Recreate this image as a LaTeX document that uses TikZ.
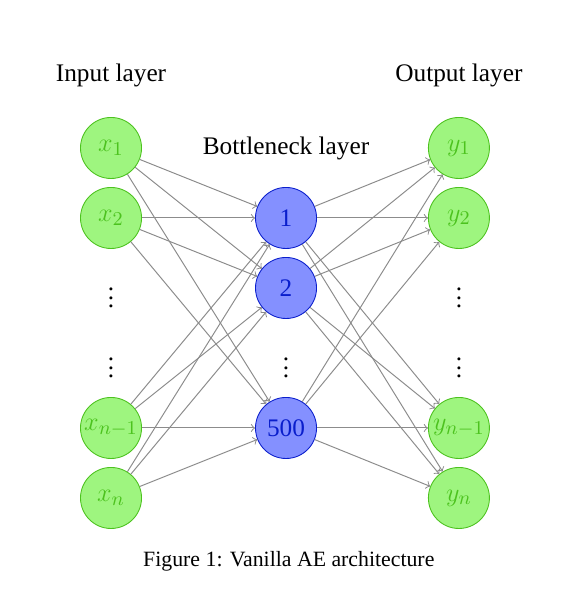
\documentclass[tikz,border=0pt]{standalone}
\usepackage{fontspec}
\setmainfont{Liberation Serif}
\definecolor{iofill}{HTML}{9EF57F}
\definecolor{ioline}{HTML}{4CC21E}
\definecolor{hiddenfill}{HTML}{8490FF}
\definecolor{hiddenline}{HTML}{0A1ECC}

\begin{document}
\begin{tikzpicture}[x=32.11pt,y=-32.11pt,
    every node/.style={font=\fontsize{11.6}{14}\selectfont},
    io/.style={circle,draw=ioline,fill=iofill,text=ioline,minimum size=28pt,inner sep=0pt,font=\fontsize{13}{15}\selectfont},
    hidden/.style={circle,draw=hiddenline,fill=hiddenfill,text=hiddenline,minimum size=28pt,inner sep=0pt},
    link/.style={->,draw=black!45,line width=0.45pt}]
    \useasboundingbox (-1.586,-2.114) rectangle (6.657,6.329);

    % layer titles
    \node (inlabel) at (0,-1.03) {Input layer};
    \node (botlabel) at (2.5,0) {Bottleneck layer};
    \node (outlabel) at (4.97,-1.03) {Output layer};

    % input layer
    \node[io] (x1) at (0,0) {$x_1$};
    \node[io] (x2) at (0,1) {$x_2$};
    \node (xdots1) at (0,2.05) {$\vdots$};
    \node (xdots2) at (0,3.05) {$\vdots$};
    \node[io] (xn1) at (0,4) {$x_{n-1}$};
    \node[io] (xn) at (0,5) {$x_n$};

    % bottleneck
    \node[hidden] (h1) at (2.5,1) {1};
    \node[hidden] (h2) at (2.5,2) {2};
    \node (hdots) at (2.5,3.05) {$\vdots$};
    \node[hidden] (h3) at (2.5,4) {500};

    % output layer
    \node[io] (y1) at (4.97,0) {$y_1$};
    \node[io] (y2) at (4.97,1) {$y_2$};
    \node (ydots1) at (4.97,2.05) {$\vdots$};
    \node (ydots2) at (4.97,3.05) {$\vdots$};
    \node[io] (yn1) at (4.97,4) {$y_{n-1}$};
    \node[io] (yn) at (4.97,5) {$y_n$};

    \foreach \i in {x1,x2,xn1,xn}
      \foreach \h in {h1,h2,h3}
        \draw[link] (\i) -- (\h);
    \foreach \h in {h1,h2,h3}
      \foreach \o in {y1,y2,yn1,yn}
        \draw[link] (\h) -- (\o);

    \node[font=\fontsize{10}{12}\selectfont] (caption) at (2.54,5.91) {Figure 1: Vanilla AE architecture};
  \end{tikzpicture}
\end{document}
